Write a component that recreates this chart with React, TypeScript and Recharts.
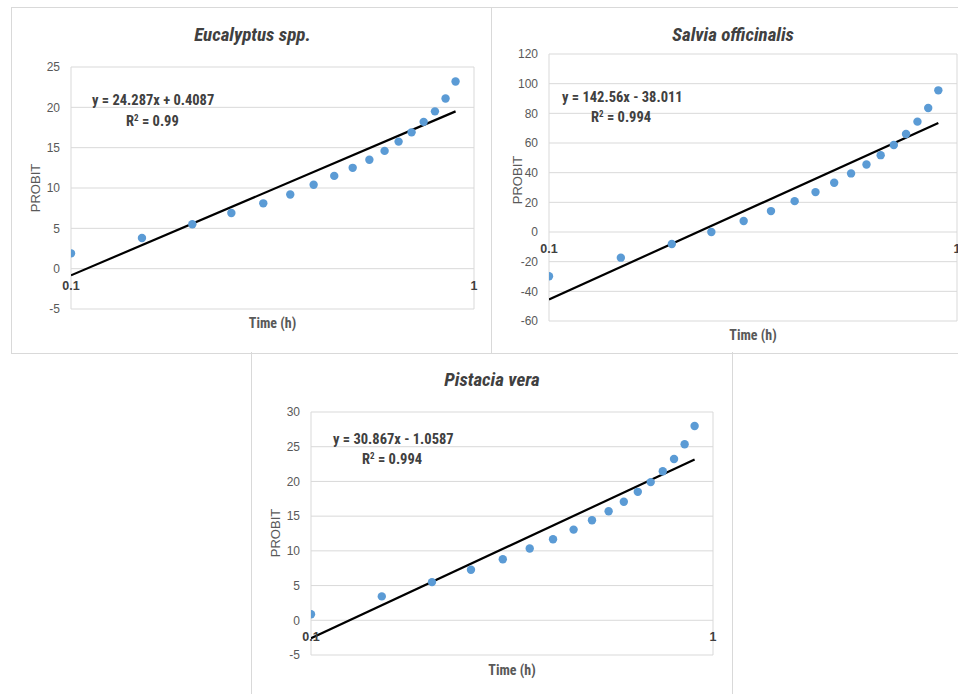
import React from 'react';
import { ScatterChart, Scatter, XAxis, YAxis, CartesianGrid, ReferenceDot } from 'recharts';

// ---- data ----
const TIMES = [0.1, 0.15, 0.2, 0.25, 0.3, 0.35, 0.4, 0.45, 0.5, 0.55, 0.6, 0.65, 0.7, 0.75, 0.8, 0.85, 0.9];
const EUCALYPTUS = [1.9, 3.8, 5.5, 6.9, 8.1, 9.2, 10.4, 11.5, 12.5, 13.5, 14.6, 15.75, 16.9, 18.2, 19.5, 21.1, 23.2];
const SALVIA = [-29.8, -17.3, -8.1, 0, 7.4, 14.1, 20.8, 26.9, 33.2, 39.5, 45.5, 51.8, 58.7, 66.1, 74.4, 83.6, 95.5];
const PISTACIA = [0.86, 3.44, 5.5, 7.27, 8.8, 10.33, 11.67, 13.06, 14.4, 15.7, 17.07, 18.5, 19.9, 21.47, 23.24, 25.35, 27.98];

const TREND_TIMES = [0.1, 0.9];
const EUCALYPTUS_TREND = [-0.83, 19.5];
const SALVIA_TREND = [-45.5, 73.5];
const PISTACIA_TREND = [-2.58, 23.15];

const X_TICKS = [0.1, 1];
const X_TICK_LABELS = ['0.1', '1'];
const EUCALYPTUS_Y_TICKS = [-5, 0, 5, 10, 15, 20, 25];
const SALVIA_Y_TICKS = [-60, -40, -20, 0, 20, 40, 60, 80, 100, 120];
const PISTACIA_Y_TICKS = [-5, 0, 5, 10, 15, 20, 25, 30];

const TITLES = ['Eucalyptus spp.', 'Salvia officinalis', 'Pistacia vera'];
const EQUATIONS = ['y = 24.287x + 0.4087', 'y = 142.56x - 38.011', 'y = 30.867x - 1.0587'];
const R2_VALUES = ['0.99', '0.994', '0.994'];
const X_LABEL = 'Time (h)';
const Y_LABEL = 'PROBIT';

const FONT = "'Liberation Sans Narrow', 'Roboto Condensed', 'Liberation Sans', Arial, sans-serif";
const TICK_FONT = "'Liberation Sans', Arial, sans-serif";
const GRID = '#d9d9d9';
const DOT = '#5b9bd5';

type PanelProps = {
  left: number; top: number; width: number; height: number;
  margin: { top: number; right: number; bottom: number; left: number };
  yAxisWidth: number;
  idx: number;
  values: number[];
  trend: number[];
  yTicks: number[];
  titleY: number;
  eqLeft: number; eqTop: number; r2Left: number; r2Top: number;
  probitX: number; probitY: number;
  timeY: number;
};

const noShape = () => <g />;

function Panel(p: PanelProps) {
  const pts = TIMES.map((t, i) => ({ x: t, y: p.values[i] }));
  const trendPts = TREND_TIMES.map((t, i) => ({ x: t, y: p.trend[i] }));
  const yDomain = [p.yTicks[0], p.yTicks[p.yTicks.length - 1]];
  const plotLeft = p.margin.left + p.yAxisWidth;
  const plotRight = p.width - p.margin.right;
  const plotCenter = (plotLeft + plotRight) / 2;
  return (
    <div style={{ position: 'absolute', left: p.left, top: p.top, width: p.width, height: p.height }}>
      <ScatterChart width={p.width} height={p.height} margin={p.margin}>
        <CartesianGrid stroke={GRID} strokeWidth={1} vertical horizontal />
        <XAxis type="number" dataKey="x" scale="log" domain={[0.1, 1]} ticks={X_TICKS}
          allowDataOverflow tick={false} axisLine={false} tickLine={false} height={1} />
        <YAxis type="number" dataKey="y" domain={yDomain} ticks={p.yTicks} allowDataOverflow
          axisLine={false} tickLine={false} width={p.yAxisWidth} tickMargin={5}
          tick={{ fill: '#595959', fontSize: 12, fontFamily: TICK_FONT }} interval={0} />
        <Scatter data={trendPts} isAnimationActive={false} shape={noShape}
          line={{ stroke: '#000', strokeWidth: 2.2 }} />
        <Scatter data={pts} isAnimationActive={false} fill={DOT}
          shape={(s: any) => <circle cx={s.cx} cy={s.cy} r={4.2} fill={DOT} />} />
        {X_TICKS.map((t, i) => (
          <ReferenceDot key={t} x={t} y={0} r={0} ifOverflow="visible" fill="none" stroke="none"
            label={{ value: X_TICK_LABELS[i], position: 'bottom', offset: 12, fill: '#404040',
              fontSize: 12.5, fontWeight: 'bold', fontFamily: TICK_FONT }} />
        ))}
      </ScatterChart>
      <div style={{ position: 'absolute', left: 0, width: p.width, top: p.titleY - 12, textAlign: 'center',
        fontFamily: FONT, fontWeight: 'bold', fontStyle: 'italic', fontSize: 19, color: '#404040', lineHeight: '24px' }}>
        <span style={{ position: 'relative', left: plotCenter - p.width / 2 - 20 }}>{TITLES[p.idx]}</span>
      </div>
      <div style={{ position: 'absolute', left: p.eqLeft, top: p.eqTop - 9, fontFamily: FONT, fontWeight: 'bold',
        fontSize: 14.5, color: '#404040', lineHeight: '18px', whiteSpace: 'nowrap' }}>{EQUATIONS[p.idx]}</div>
      <div style={{ position: 'absolute', left: p.r2Left, top: p.r2Top - 9, fontFamily: FONT, fontWeight: 'bold',
        fontSize: 14.5, color: '#404040', lineHeight: '18px', whiteSpace: 'nowrap' }}>
        R<sup style={{ fontSize: 9, verticalAlign: 'top', lineHeight: '10px' }}>2</sup> = {R2_VALUES[p.idx]}
      </div>
      <div style={{ position: 'absolute', left: p.probitX - 40, top: p.probitY - 8, width: 80, height: 16,
        textAlign: 'center', transform: 'rotate(-90deg)', fontFamily: TICK_FONT, fontSize: 13,
        color: '#595959', lineHeight: '16px' }}>{Y_LABEL}</div>
      <div style={{ position: 'absolute', left: plotCenter - 50, width: 100, top: p.timeY - 9, textAlign: 'center',
        fontFamily: FONT, fontWeight: 'bold', fontSize: 14, color: '#595959', lineHeight: '18px' }}>{X_LABEL}</div>
    </div>
  );
}

export default function App() {
  const border = `1px solid ${GRID}`;
  return (
    <div style={{ position: 'absolute', left: 0, top: 0, width: 958, height: 694, overflow: 'hidden', background: '#fff' }}>
      <div style={{ position: 'absolute', left: 11, top: 7, width: 480, height: 345, borderLeft: border, borderTop: border, borderBottom: border }} />
      <div style={{ position: 'absolute', left: 491, top: 7, width: 480, height: 345, borderLeft: border, borderTop: border, borderBottom: border }} />
      <div style={{ position: 'absolute', left: 251, top: 352, width: 480, height: 350, borderLeft: border, borderRight: border }} />
      <Panel left={11} top={8} width={480} height={344} idx={0}
        margin={{ top: 59, right: 17, bottom: 42, left: 20 }} yAxisWidth={40}
        values={EUCALYPTUS} trend={EUCALYPTUS_TREND} yTicks={EUCALYPTUS_Y_TICKS}
        titleY={27} eqLeft={81} eqTop={93} r2Left={115} r2Top={114}
        probitX={25} probitY={180} timeY={315} />
      <Panel left={491} top={8} width={470} height={344} idx={1}
        margin={{ top: 46, right: 4, bottom: 30, left: 18 }} yAxisWidth={40}
        values={SALVIA} trend={SALVIA_TREND} yTicks={SALVIA_Y_TICKS}
        titleY={27} eqLeft={71} eqTop={90} r2Left={100} r2Top={110}
        probitX={27} probitY={172} timeY={327} />
      <Panel left={251} top={352} width={480} height={342} idx={2}
        margin={{ top: 60, right: 18, bottom: 38, left: 20 }} yAxisWidth={40}
        values={PISTACIA} trend={PISTACIA_TREND} yTicks={PISTACIA_Y_TICKS}
        titleY={28} eqLeft={82} eqTop={88} r2Left={111} r2Top={108}
        probitX={25} probitY={181} timeY={318} />
    </div>
  );
}
